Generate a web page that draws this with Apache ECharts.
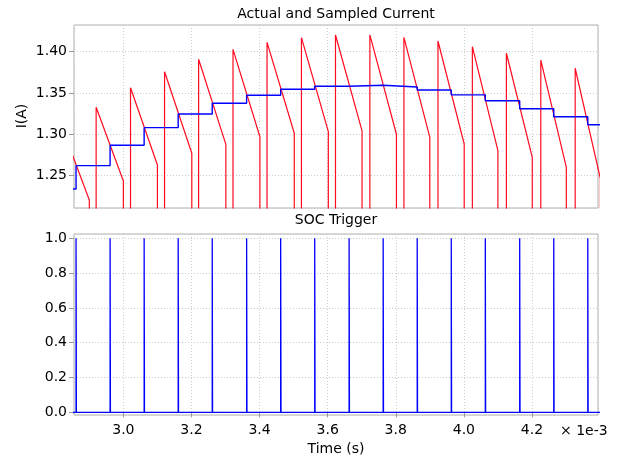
<!DOCTYPE html>
<html>
<head>
<meta charset="utf-8">
<script src="https://cdn.jsdelivr.net/npm/echarts@6/dist/echarts.min.js"></script>
<style>
html,body{margin:0;padding:0;background:#fff;}
#chart{width:619px;height:457px;}
</style>
</head>
<body>
<div id="chart"></div>
<script>
// Times are in units of 1e-3 s
const riseTimes   = [2.820, 2.920, 3.021, 3.121, 3.221, 3.322, 3.422, 3.523, 3.623, 3.724, 3.824, 3.924, 4.025, 4.125, 4.226, 4.327];
const peakValues  = [1.308, 1.3325, 1.3563, 1.3757, 1.3908, 1.4029, 1.4114, 1.4170, 1.4203, 1.4203, 1.4175, 1.4130, 1.4061, 1.3981, 1.3899, 1.3799];
const fallTimes   = [2.900, 3.000, 3.100, 3.201, 3.301, 3.401, 3.502, 3.602, 3.701, 3.802, 3.900, 4.001, 4.100, 4.201, 4.301, 4.401];
const fallValues  = [1.220, 1.2431, 1.2625, 1.2767, 1.2876, 1.2968, 1.3010, 1.3029, 1.3038, 1.2998, 1.2961, 1.2880, 1.2799, 1.2718, 1.2597, 1.246];
const offCurrent  = 1.15;

const sampleTimes  = [2.761, 2.861, 2.961, 3.061, 3.161, 3.261, 3.362, 3.462, 3.562, 3.663, 3.763, 3.863, 3.963, 4.063, 4.164, 4.264, 4.364, 4.464];
const sampleValues = [1.2334, 1.2617, 1.2864, 1.3078, 1.3244, 1.3374, 1.3471, 1.3544, 1.3580, 1.3592, 1.3572, 1.3536, 1.3476, 1.3405, 1.3308, 1.3211, 1.3114, 1.3114];

const triggerTimes = [2.861, 2.961, 3.061, 3.161, 3.261, 3.362, 3.462, 3.562, 3.663, 3.763, 3.863, 3.963, 4.063, 4.164, 4.264, 4.364];
const triggerHigh = 1;
const triggerLow = 0;
const pulseWidth = 0.001;

const xMin = 2.855, xMax = 4.394;
const yTopMin = 1.2103, yTopMax = 1.4324;
const yBotMin = -0.0155, yBotMax = 1.025;

// Build series data
const actualData = [[2.78, offCurrent]];
for (let i = 0; i < riseTimes.length; i++) {
  actualData.push([riseTimes[i], offCurrent]);
  actualData.push([riseTimes[i], peakValues[i]]);
  actualData.push([fallTimes[i], fallValues[i]]);
  actualData.push([fallTimes[i], offCurrent]);
}
const sampledData = sampleTimes.map((t, i) => [t, sampleValues[i]]);
const triggerData = [[2.80, triggerLow]];
triggerTimes.forEach(t => {
  triggerData.push([t, triggerLow]);
  triggerData.push([t, triggerHigh]);
  triggerData.push([t + pulseWidth, triggerHigh]);
  triggerData.push([t + pulseWidth, triggerLow]);
});
triggerData.push([4.46, triggerLow]);

const FONT = 'DejaVu Sans';
const gridLine = {show: true, lineStyle: {color: '#cccccc', type: [1, 2], width: 1}};
const tick = {show: true, length: 5, lineStyle: {color: '#999'}};

const chart = echarts.init(document.getElementById('chart'), null, {renderer: 'canvas'});
chart.setOption({
  animation: false,
  backgroundColor: '#fff',
  grid: [
    {left: 74, top: 25, width: 524, height: 183, show: true, borderColor: '#b0b0b0', borderWidth: 1, backgroundColor: 'transparent'},
    {left: 74, top: 234, width: 524, height: 181, show: true, borderColor: '#b0b0b0', borderWidth: 1, backgroundColor: 'transparent'}
  ],
  xAxis: [
    {type: 'value', gridIndex: 0, min: xMin, max: xMax, splitNumber: 8,
     axisLine: {show: false}, axisTick: {show: false}, axisLabel: {show: false}, splitLine: gridLine},
    {type: 'value', gridIndex: 1, min: xMin, max: xMax, splitNumber: 8,
     axisLine: {show: false}, axisTick: tick,
     axisLabel: {show: true, margin: 8, color: '#000', fontFamily: FONT, fontSize: 14,
       showMinLabel: false, showMaxLabel: false, formatter: v => v.toFixed(1)},
     splitLine: gridLine}
  ],
  yAxis: [
    {type: 'value', gridIndex: 0, min: yTopMin, max: yTopMax, splitNumber: 5,
     axisLine: {show: false}, axisTick: tick,
     axisLabel: {show: true, margin: 7, color: '#000', fontFamily: FONT, fontSize: 14,
       showMinLabel: false, showMaxLabel: false, formatter: v => v.toFixed(2)},
     splitLine: gridLine},
    {type: 'value', gridIndex: 1, min: yBotMin, max: yBotMax, splitNumber: 5,
     axisLine: {show: false}, axisTick: tick,
     axisLabel: {show: true, margin: 7, color: '#000', fontFamily: FONT, fontSize: 14,
       showMinLabel: false, showMaxLabel: false, formatter: v => v.toFixed(1)},
     splitLine: gridLine}
  ],
  series: [
    {type: 'line', xAxisIndex: 0, yAxisIndex: 0, data: actualData, showSymbol: false, symbol: 'none',
     lineStyle: {color: '#ff0a1e', width: 1.2}, clip: true},
    {type: 'line', xAxisIndex: 0, yAxisIndex: 0, data: sampledData, step: 'end', showSymbol: false, symbol: 'none',
     lineStyle: {color: '#0000ff', width: 1.4}, clip: true},
    {type: 'line', xAxisIndex: 1, yAxisIndex: 1, data: triggerData, showSymbol: false, symbol: 'none',
     lineStyle: {color: '#0000ff', width: 1.3}, clip: true}
  ],
  graphic: [
    {type: 'text', x: 336, y: 14, style: {text: 'Actual and Sampled Current', font: '14px "DejaVu Sans"', fill: '#000', textAlign: 'center', textVerticalAlign: 'middle'}},
    {type: 'text', x: 336, y: 220, style: {text: 'SOC Trigger', font: '14px "DejaVu Sans"', fill: '#000', textAlign: 'center', textVerticalAlign: 'middle'}},
    {type: 'text', x: 336, y: 449, style: {text: 'Time (s)', font: '14px "DejaVu Sans"', fill: '#000', textAlign: 'center', textVerticalAlign: 'middle'}},
    {type: 'text', x: 560, y: 431, style: {text: '× 1e-3', font: '14px "DejaVu Sans"', fill: '#000', textAlign: 'left', textVerticalAlign: 'middle'}},
    {type: 'text', x: 22, y: 116, rotation: Math.PI / 2, style: {text: 'I(A)', font: '14px "DejaVu Sans"', fill: '#000', textAlign: 'center', textVerticalAlign: 'middle'}}
  ]
});
</script>
</body>
</html>
